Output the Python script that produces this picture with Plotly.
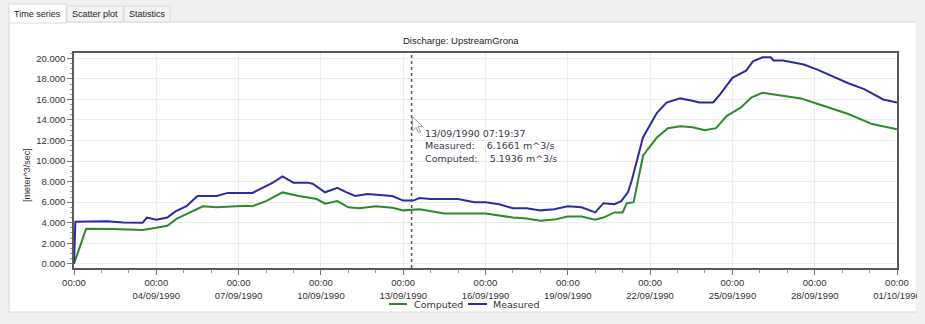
import pandas as pd
import plotly.graph_objects as go

# ---------------- data ----------------
start = pd.Timestamp("1990-09-01 00:00")

measured_days = [0.00, 0.05, 0.5, 1.2, 1.8, 2.5, 2.66, 3.0, 3.4, 3.7, 4.1, 4.5, 5.2, 5.6, 6.5,
                 6.9, 7.25, 7.6, 8.0, 8.5, 8.7, 9.15, 9.6, 9.9, 10.25, 10.7, 11.6, 12.0, 12.36,
                 12.6, 13.0, 14.0, 14.6, 15.0, 15.5, 16.0, 16.5, 17.0, 17.5, 18.0, 18.5, 19.0,
                 19.3, 19.7, 19.95, 20.2, 20.34, 20.74, 21.25, 21.6, 22.1, 22.5, 22.8, 23.3,
                 23.55, 24.0, 24.5, 24.75, 25.1, 25.4, 25.5, 25.85, 26.6, 27.1, 28.2, 28.8,
                 29.5, 30.0]
measured_vals = [0.0, 4.1, 4.12, 4.13, 4.03, 4.0, 4.5, 4.3, 4.5, 5.1, 5.6, 6.6, 6.6, 6.9, 6.9,
                 7.4, 7.9, 8.5, 7.9, 7.9, 7.8, 6.96, 7.4, 7.0, 6.6, 6.8, 6.6, 6.15, 6.15,
                 6.4, 6.3, 6.3, 6.0, 6.0, 5.8, 5.4, 5.4, 5.2, 5.3, 5.6, 5.5, 5.0,
                 5.9, 5.8, 6.1, 7.0, 8.2, 12.3, 14.7, 15.7, 16.1, 15.9, 15.7, 15.7,
                 16.5, 18.1, 18.8, 19.7, 20.1, 20.1, 19.8, 19.8, 19.4, 18.9, 17.6, 17.0,
                 16.0, 15.7]

computed_days = [0.0, 0.44, 1.4, 2.5, 3.0, 3.4, 3.75, 4.2, 4.7, 5.2, 6.3, 6.5, 7.0, 7.6, 8.2,
                 8.85, 9.15, 9.6, 10.0, 10.4, 11.0, 11.6, 12.0, 12.6, 13.0, 13.5, 15.0, 15.5,
                 16.0, 16.5, 17.0, 17.5, 18.0, 18.5, 19.0, 19.3, 19.7, 20.0, 20.15, 20.4,
                 20.55, 20.74, 20.9, 21.25, 21.65, 22.1, 22.55, 23.0, 23.4, 23.8, 24.3, 24.7,
                 25.1, 25.7, 26.5, 26.95, 28.2, 29.1, 30.0]
computed_vals = [0.0, 3.4, 3.38, 3.3, 3.5, 3.7, 4.4, 5.0, 5.6, 5.5, 5.65, 5.6, 6.1, 6.95, 6.6,
                 6.3, 5.85, 6.1, 5.5, 5.4, 5.6, 5.45, 5.2, 5.3, 5.1, 4.9, 4.9, 4.7,
                 4.5, 4.4, 4.2, 4.3, 4.6, 4.6, 4.3, 4.5, 5.0, 5.0, 5.9, 6.0,
                 8.0, 10.5, 11.1, 12.3, 13.2, 13.4, 13.3, 13.0, 13.2, 14.4, 15.2, 16.2,
                 16.65, 16.4, 16.1, 15.7, 14.6, 13.6, 13.1]

tick_days = [0, 3, 6, 9, 12, 15, 18, 21, 24, 27, 30]
tick_text = ["00:00", "00:00<br>04/09/1990", "00:00<br>07/09/1990", "00:00<br>10/09/1990",
             "00:00<br>13/09/1990", "00:00<br>16/09/1990", "00:00<br>19/09/1990",
             "00:00<br>22/09/1990", "00:00<br>25/09/1990", "00:00<br>28/09/1990",
             "00:00<br>01/10/1990"]
y_ticks = [0, 2, 4, 6, 8, 10, 12, 14, 16, 18, 20]

cursor_time = pd.Timestamp("1990-09-13 07:19:37")
cursor_measured = 6.1661
cursor_computed = 5.1936

title_text = "Discharge: UpstreamGrona"
y_title = "[meter^3/sec]"
tabs = ["Time series", "Scatter plot", "Statistics"]

# ---------------- figure ----------------
def to_time(days):
    return start + pd.to_timedelta(days, unit="D")

GREEN = "#2b8a2b"
BLUE = "#2b2ba8"

W, H = 925, 324
L, R, T, B = 74, 28, 53, 56
PW, PH = W - L - R, H - T - B


def px(x):
    return (x - L) / PW


def py(y):
    return (H - B - y) / PH


fig = go.Figure()
fig.add_trace(go.Scatter(x=to_time(computed_days), y=computed_vals, name="Computed",
                         mode="lines", line=dict(color=GREEN, width=2), showlegend=False))
fig.add_trace(go.Scatter(x=to_time(measured_days), y=measured_vals, name="Measured",
                         mode="lines", line=dict(color=BLUE, width=2), showlegend=False))

shapes = []
# window panels
shapes.append(dict(type="rect", xref="paper", yref="paper", x0=px(9), x1=px(917), y0=py(312),
                   y1=py(22), fillcolor="white", line=dict(color="#d8d8d8", width=1), layer="below"))
tab_x = [(9, 66), (67, 123), (124, 170)]
for i, (a, b) in enumerate(tab_x):
    shapes.append(dict(type="rect", xref="paper", yref="paper", x0=px(a), x1=px(b),
                       y0=py(22 if i else 23), y1=py(4 if i == 0 else 6),
                       fillcolor="white" if i == 0 else "#f3f3f3",
                       line=dict(color="#d8d8d8", width=1), layer="below"))
# cursor line
shapes.append(dict(type="line", xref="x", yref="paper", x0=cursor_time, x1=cursor_time, y0=0, y1=1,
                   line=dict(color="#555555", width=1.5, dash="dot")))
# mouse pointer
shapes.append(dict(type="path", xref="x", yref="y", xsizemode="pixel", ysizemode="pixel",
                   xanchor=cursor_time, yanchor=14.3,
                   path="M 1 0 L 1 -14 L 4.5 -10.5 L 7 -16 L 9 -15 L 6.5 -9.5 L 11 -9.5 Z",
                   fillcolor="white", line=dict(color="#9a9a9a", width=1)))
# manual legend lines
shapes.append(dict(type="line", xref="paper", yref="paper", x0=px(389), x1=px(407), y0=py(304),
                   y1=py(304), line=dict(color=GREEN, width=2)))
shapes.append(dict(type="line", xref="paper", yref="paper", x0=px(468), x1=px(487), y0=py(304),
                   y1=py(304), line=dict(color=BLUE, width=2)))

ann = []
tab_centers = [37.5, 95, 147]
for t, c in zip(tabs, tab_centers):
    ann.append(dict(text=t, xref="paper", yref="paper", x=px(c), y=py(14), showarrow=False,
                    xanchor="center", yanchor="middle",
                    font=dict(family="Liberation Sans", size=9, color="#222")))
ann.append(dict(text=title_text, xref="paper", yref="paper", x=px(461), y=py(41), showarrow=False,
                xanchor="center", yanchor="middle",
                font=dict(family="Liberation Sans", size=9.5, color="#222")))
ann.append(dict(text=y_title, xref="paper", yref="paper", x=px(27), y=py(175), showarrow=False,
                textangle=-90, xanchor="center", yanchor="middle",
                font=dict(family="Liberation Sans", size=9, color="#333")))
nb = "\u00a0"
tip = (cursor_time.strftime("%d/%m/%Y %H:%M:%S") + "<br>"
       + "Measured:" + nb * 4 + f"{cursor_measured:.4f} m^3/s<br>"
       + "Computed:" + nb * 4 + f"{cursor_computed:.4f} m^3/s")
ann.append(dict(text=tip, xref="x", yref="paper", x=cursor_time, xshift=11, y=py(126),
                showarrow=False, xanchor="left", yanchor="top", align="left",
                font=dict(family="DejaVu Sans", size=9.5, color="#3a3a4a")))
ann.append(dict(text="Computed", xref="paper", yref="paper", x=px(412), y=py(304), showarrow=False,
                xanchor="left", yanchor="middle",
                font=dict(family="DejaVu Sans", size=9.5, color="#333")))
ann.append(dict(text="Measured", xref="paper", yref="paper", x=px(491), y=py(304), showarrow=False,
                xanchor="left", yanchor="middle",
                font=dict(family="DejaVu Sans", size=9.5, color="#333")))
# right window strip drawn on top (clips the last tick label like the reference)
ann.append(dict(text="\u00a0", xref="paper", yref="paper", x=px(917.5), y=py(162), showarrow=False,
                xanchor="left", yanchor="middle", width=12, height=330,
                bgcolor="#f0f0f0", borderpad=0, borderwidth=0, font=dict(size=10)))

fig.update_layout(
    width=W, height=H,
    margin=dict(l=L, r=R, t=T, b=B, pad=0),
    paper_bgcolor="#f0f0f0", plot_bgcolor="white",
    shapes=shapes, annotations=ann,
    showlegend=False,
    xaxis=dict(type="date", range=[to_time(0), to_time(30)],
               tickvals=to_time(tick_days), ticktext=tick_text,
               showgrid=True, gridcolor="#ececec", gridwidth=1,
               showline=True, linecolor="#5a5a5a", linewidth=1.5, mirror=True,
               ticks="outside", ticklen=5, tickcolor="#777",
               minor=dict(dtick=86400000, ticks="outside", ticklen=3, tickcolor="#999", showgrid=False),
               tickfont=dict(family="Liberation Sans", size=9.5, color="#333"),
               zeroline=False, fixedrange=True, automargin=False),
    yaxis=dict(range=[-0.41, 20.52], tickvals=y_ticks, tickformat=".3f",
               showgrid=True, gridcolor="#ececec", gridwidth=1,
               showline=True, linecolor="#5a5a5a", linewidth=1.5, mirror=True,
               ticks="outside", ticklen=5, tickcolor="#777",
               minor=dict(dtick=0.5, ticks="outside", ticklen=2, tickcolor="#999", showgrid=False),
               tickfont=dict(family="Liberation Sans", size=9.5, color="#333"),
               zeroline=False, fixedrange=True, automargin=False),
)

fig.write_html("out.html", config={"displayModeBar": False},
               post_script="document.body.style.margin='0';document.body.style.overflow='hidden';")
